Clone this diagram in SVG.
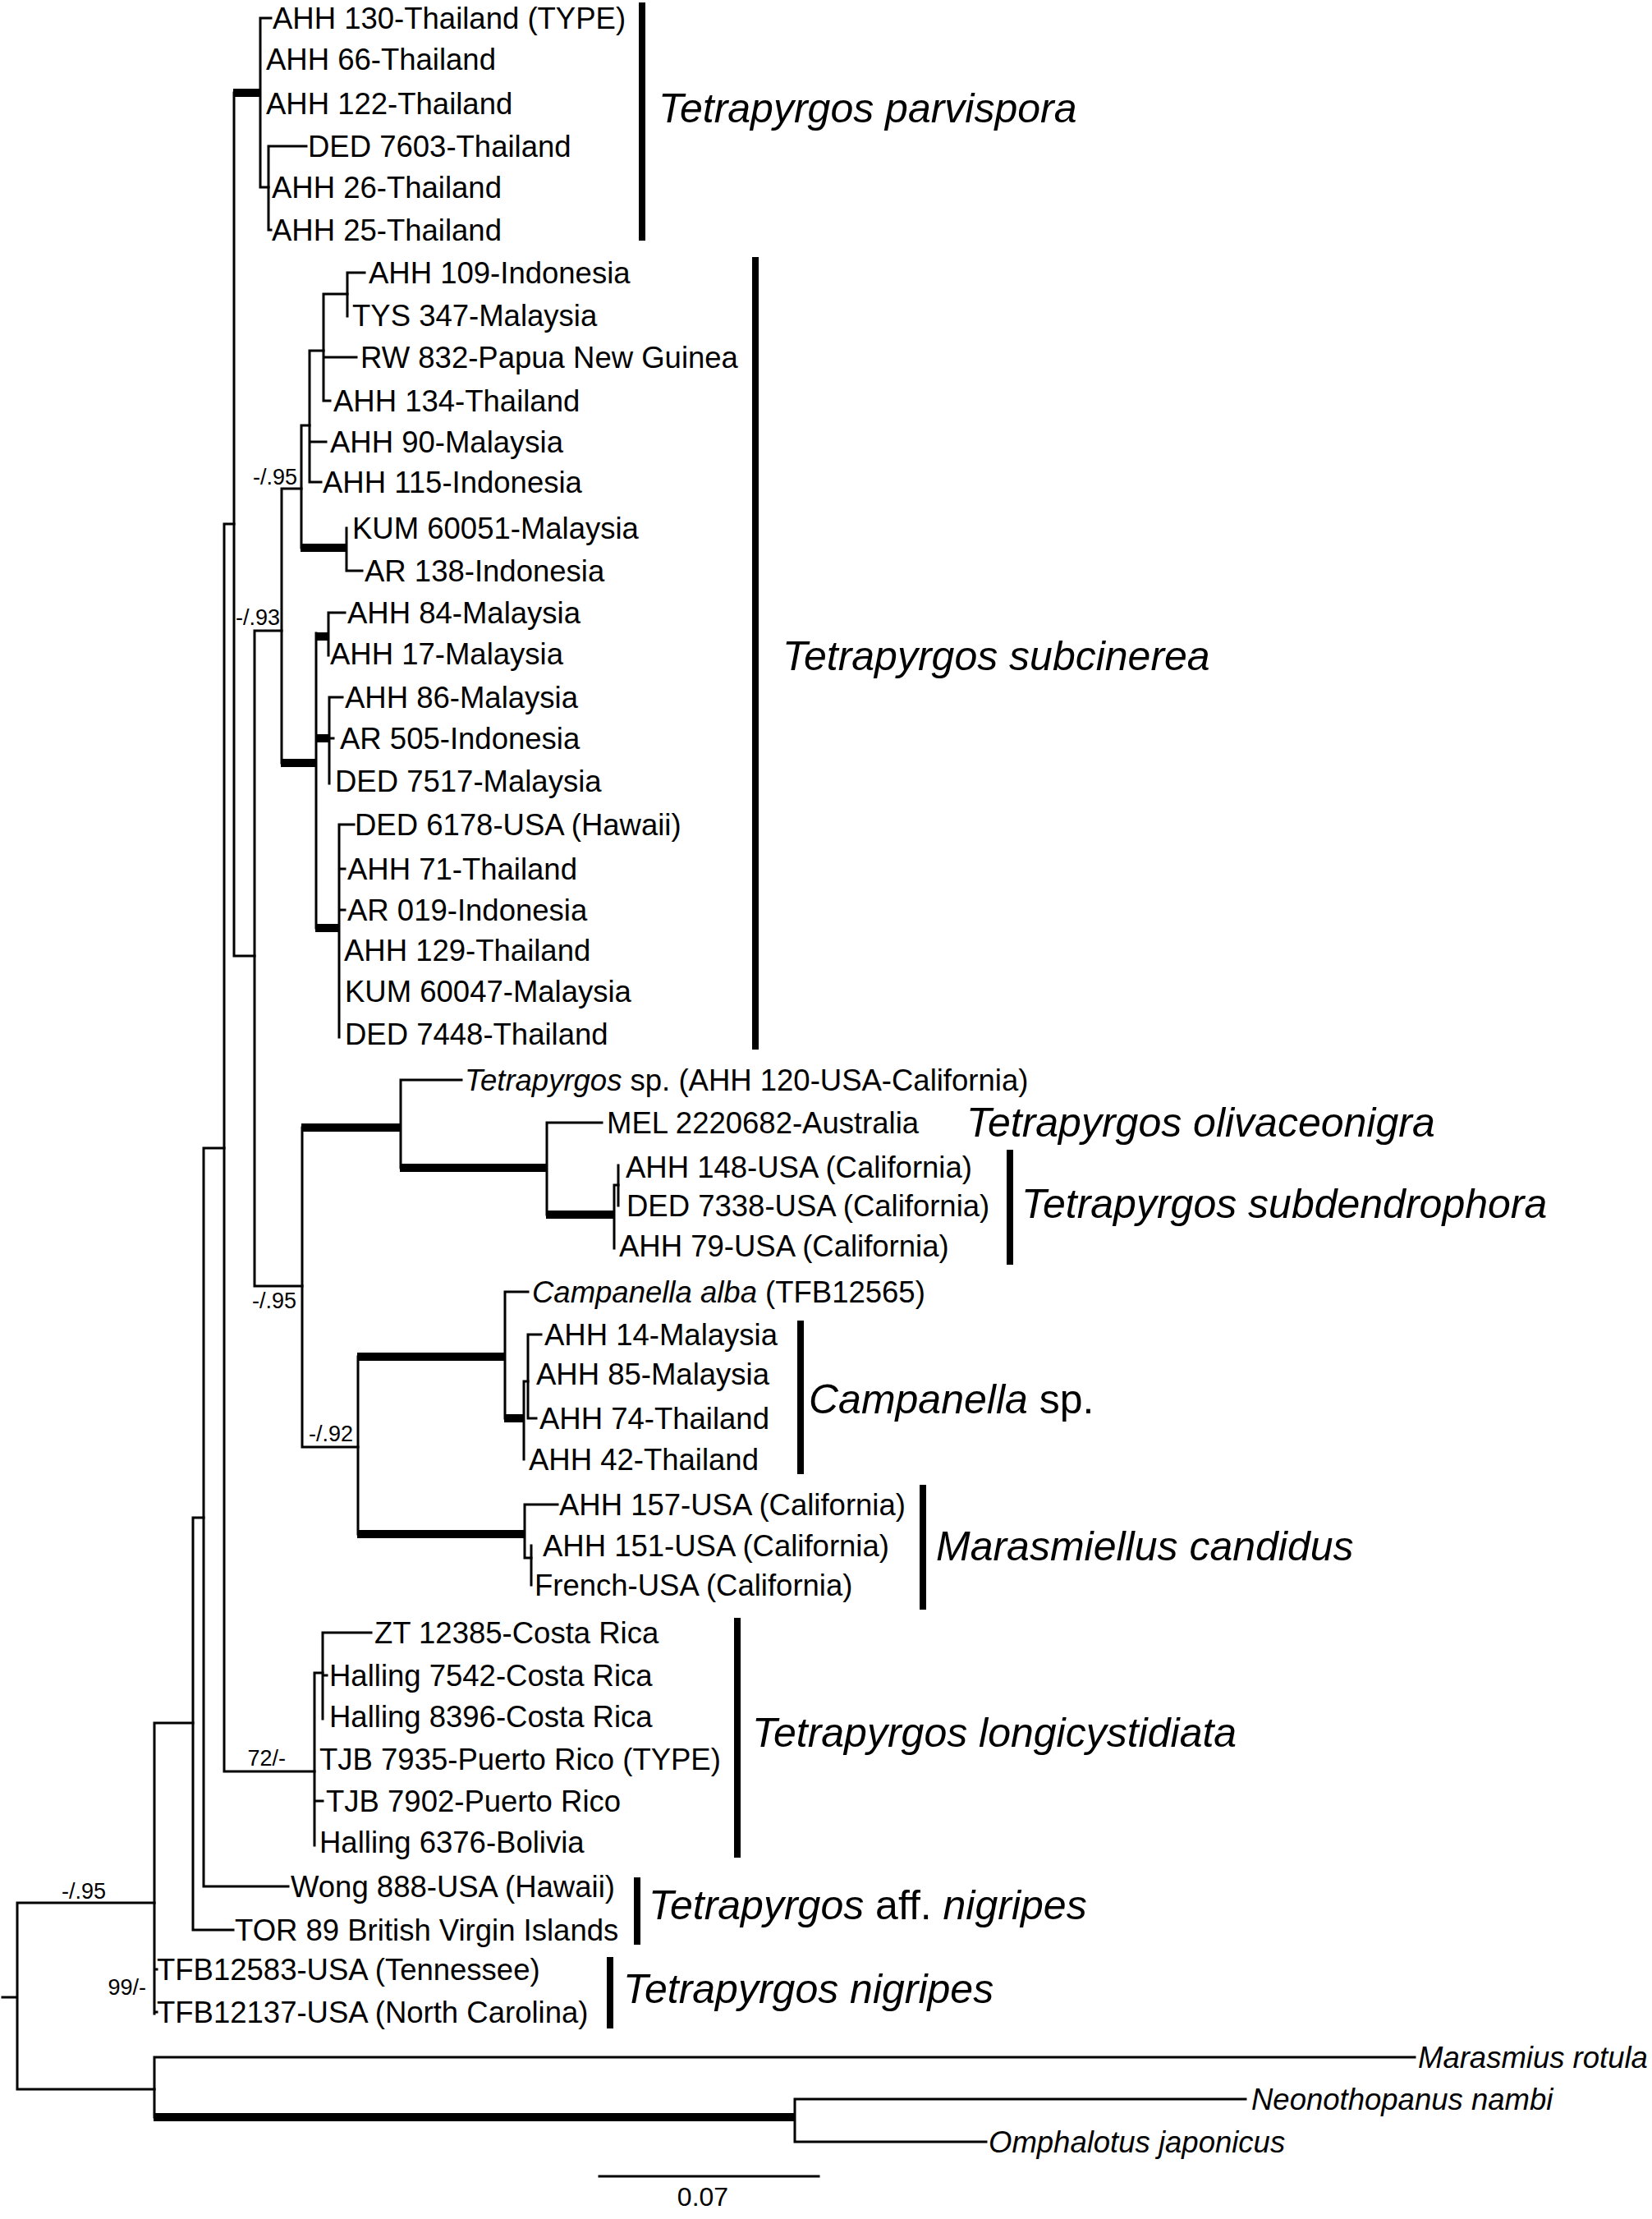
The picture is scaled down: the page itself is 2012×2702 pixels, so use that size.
<svg xmlns="http://www.w3.org/2000/svg" width="2012" height="2702" viewBox="0 0 2012 2702">
<style>
.bg{fill:#fff}
.br{fill:none;stroke:#000;stroke-width:3;stroke-linecap:square}
.tk{fill:none;stroke:#000;stroke-width:10;stroke-linecap:butt}
.bar{fill:none;stroke:#000;stroke-width:8;stroke-linecap:butt}
text{font-family:"Liberation Sans",Arial,sans-serif;fill:#000}
.tip{font-size:36.5px}
.grp{font-size:50px}
.it{font-style:italic}
.sup{font-size:27px;text-anchor:end}
.scl{font-size:32px;text-anchor:middle}
</style>
<rect class="bg" x="0" y="0" width="2012" height="2702"/>
<g id="connectors">
<path class="br" d="M3 2432H21M21 2317V2544M21 2317H188M21 2544H188"/>
<path class="br" d="M188 2098V2452M188 2098H235M188 2398H191M188 2450H191"/>
<path class="br" d="M235 1848V2350M235 1848H248M235 2350H284"/>
<path class="br" d="M248 1398V2297M248 1398H273M248 2297H351"/>
<path class="br" d="M273 638V2157M273 638H285M273 2157H383"/>
<path class="br" d="M285 113V1164M285 1164H310"/>
<path class="tk" d="M284 113H318"/>
<path class="br" d="M317 22V228M317 22H330M317 228H327"/>
<path class="br" d="M327 178V280M327 178H373M327 280H330"/>
<path class="br" d="M310 768V1566M310 768H343M310 1566H368"/>
<path class="br" d="M343 595V929M343 595H367"/>
<path class="tk" d="M342 929H386"/>
<path class="br" d="M367 518V667M367 518H377"/>
<path class="tk" d="M366 667H423"/>
<path class="br" d="M377 427V587M377 427H394M377 538H397M377 587H391"/>
<path class="br" d="M394 358V488M394 358H423M394 435H434M394 488H402"/>
<path class="br" d="M423 332V385M423 332H444"/>
<path class="br" d="M422 643V695M422 695H441"/>
<path class="br" d="M385 771V1130"/>
<path class="tk" d="M384 775H401M384 899H402M384 1130H414"/>
<path class="br" d="M400 746V798M400 746H420"/>
<path class="br" d="M401 849V954M401 849H417M401 899H406"/>
<path class="br" d="M413 1004V1263M413 1004H431M413 1058H420M413 1108H420"/>
<path class="br" d="M368 1373V1762M368 1762H436"/>
<path class="tk" d="M367 1373H489"/>
<path class="br" d="M488 1315V1422M488 1315H562"/>
<path class="tk" d="M487 1422H667"/>
<path class="br" d="M666 1367V1479M666 1367H733"/>
<path class="tk" d="M665 1479H749"/>
<path class="br" d="M748 1443V1520M748 1443H753"/>
<path class="br" d="M753 1419V1468"/>
<path class="br" d="M436 1652V1868"/>
<path class="tk" d="M435 1652H616M435 1868H640"/>
<path class="br" d="M615 1573V1727M615 1573H643"/>
<path class="tk" d="M614 1727H639"/>
<path class="br" d="M638 1682V1777M638 1682H643"/>
<path class="br" d="M643 1625V1727M643 1625H659M643 1727H653"/>
<path class="br" d="M639 1832V1897M639 1832H679M639 1897H647"/>
<path class="br" d="M647 1882V1930"/>
<path class="br" d="M383 2037V2247M383 2037H393M383 2193H393"/>
<path class="br" d="M393 1988V2093M393 1988H452M393 2040H398"/>
<path class="br" d="M188 2505V2578M188 2505H1723"/>
<path class="tk" d="M187 2578H969"/>
<path class="br" d="M968 2556V2608M968 2556H1517M968 2608H1201"/>
<path class="br" d="M730 2650H997"/>
</g>
<g id="support-values">
<text class="sup" x="362" y="590">-/.95</text>
<text class="sup" x="341" y="761">-/.93</text>
<text class="sup" x="361" y="1593">-/.95</text>
<text class="sup" x="430" y="1755">-/.92</text>
<text class="sup" x="348" y="2150">72/-</text>
<text class="sup" x="129" y="2312">-/.95</text>
<text class="sup" x="178" y="2429">99/-</text>
</g>
<g id="scale-bar"><text class="scl" x="856" y="2686">0.07</text></g>
<g id="tips">
<g id="t1"><text class="tip" x="332" y="35">AHH 130-Thailand (TYPE)</text></g>
<g id="t2"><text class="tip" x="324" y="85">AHH 66-Thailand</text></g>
<g id="t3"><text class="tip" x="324" y="139">AHH 122-Thailand</text></g>
<g id="t4"><text class="tip" x="375" y="191">DED 7603-Thailand</text></g>
<g id="t5"><text class="tip" x="331" y="241">AHH 26-Thailand</text></g>
<g id="t6"><text class="tip" x="331" y="293">AHH 25-Thailand</text></g>
<g id="t7"><text class="tip" x="449" y="345">AHH 109-Indonesia</text></g>
<g id="t8"><text class="tip" x="429" y="397">TYS 347-Malaysia</text></g>
<g id="t9"><text class="tip" x="439" y="448">RW 832-Papua New Guinea</text></g>
<g id="t10"><text class="tip" x="406" y="501">AHH 134-Thailand</text></g>
<g id="t11"><text class="tip" x="402" y="551">AHH 90-Malaysia</text></g>
<g id="t12"><text class="tip" x="393" y="600">AHH 115-Indonesia</text></g>
<g id="t13"><text class="tip" x="429" y="656">KUM 60051-Malaysia</text></g>
<g id="t14"><text class="tip" x="444" y="708">AR 138-Indonesia</text></g>
<g id="t15"><text class="tip" x="423" y="759">AHH 84-Malaysia</text></g>
<g id="t16"><text class="tip" x="402" y="809">AHH 17-Malaysia</text></g>
<g id="t17"><text class="tip" x="420" y="862">AHH 86-Malaysia</text></g>
<g id="t18"><text class="tip" x="414" y="912">AR 505-Indonesia</text></g>
<g id="t19"><text class="tip" x="408" y="964">DED 7517-Malaysia</text></g>
<g id="t20"><text class="tip" x="432" y="1017">DED 6178-USA (Hawaii)</text></g>
<g id="t21"><text class="tip" x="423" y="1071">AHH 71-Thailand</text></g>
<g id="t22"><text class="tip" x="423" y="1121">AR 019-Indonesia</text></g>
<g id="t23"><text class="tip" x="419" y="1170">AHH 129-Thailand</text></g>
<g id="t24"><text class="tip" x="420" y="1220">KUM 60047-Malaysia</text></g>
<g id="t25"><text class="tip" x="420" y="1272">DED 7448-Thailand</text></g>
<g id="t26"><text class="tip" x="566" y="1328"><tspan class="it">Tetrapyrgos</tspan> sp. (AHH 120-USA-California)</text></g>
<g id="t27"><text class="tip" x="739" y="1380">MEL 2220682-Australia</text></g>
<g id="t28"><text class="tip" x="762" y="1434">AHH 148-USA (California)</text></g>
<g id="t29"><text class="tip" x="763" y="1481">DED 7338-USA (California)</text></g>
<g id="t30"><text class="tip" x="754" y="1530">AHH 79-USA (California)</text></g>
<g id="t31"><text class="tip" x="648" y="1586"><tspan class="it">Campanella alba</tspan> (TFB12565)</text></g>
<g id="t32"><text class="tip" x="663" y="1638">AHH 14-Malaysia</text></g>
<g id="t33"><text class="tip" x="653" y="1686">AHH 85-Malaysia</text></g>
<g id="t34"><text class="tip" x="657" y="1740">AHH 74-Thailand</text></g>
<g id="t35"><text class="tip" x="644" y="1790">AHH 42-Thailand</text></g>
<g id="t36"><text class="tip" x="681" y="1845">AHH 157-USA (California)</text></g>
<g id="t37"><text class="tip" x="661" y="1895">AHH 151-USA (California)</text></g>
<g id="t38"><text class="tip" x="651" y="1943">French-USA (California)</text></g>
<g id="t39"><text class="tip" x="456" y="2001">ZT 12385-Costa Rica</text></g>
<g id="t40"><text class="tip" x="401" y="2053">Halling 7542-Costa Rica</text></g>
<g id="t41"><text class="tip" x="401" y="2103">Halling 8396-Costa Rica</text></g>
<g id="t42"><text class="tip" x="389" y="2155">TJB 7935-Puerto Rico (TYPE)</text></g>
<g id="t43"><text class="tip" x="397" y="2206">TJB 7902-Puerto Rico</text></g>
<g id="t44"><text class="tip" x="389" y="2256">Halling 6376-Bolivia</text></g>
<g id="t45"><text class="tip" x="354" y="2310">Wong 888-USA (Hawaii)</text></g>
<g id="t46"><text class="tip" x="286" y="2363">TOR 89 British Virgin Islands</text></g>
<g id="t47"><text class="tip" x="191" y="2411">TFB12583-USA (Tennessee)</text></g>
<g id="t48"><text class="tip" x="191" y="2463">TFB12137-USA (North Carolina)</text></g>
<g id="t49"><text class="tip it" x="1727" y="2518">Marasmius rotula</text></g>
<g id="t50"><text class="tip it" x="1524" y="2569">Neonothopanus nambi</text></g>
<g id="t51"><text class="tip it" x="1204" y="2621">Omphalotus japonicus</text></g>
</g>
<g id="clades">
<g id="c-parvispora"><path class="bar" d="M782 3V293"/><text class="grp it" x="802" y="149">Tetrapyrgos parvispora</text></g>
<g id="c-subcinerea"><path class="bar" d="M920 313V1278"/><text class="grp it" x="953" y="816">Tetrapyrgos subcinerea</text></g>
<g id="c-olivaceonigra"><text class="grp it" x="1177" y="1384">Tetrapyrgos olivaceonigra</text></g>
<g id="c-subdendrophora"><path class="bar" d="M1230 1400V1540"/><text class="grp it" x="1244" y="1483">Tetrapyrgos subdendrophora</text></g>
<g id="c-campanella"><path class="bar" d="M975 1608V1795"/><text class="grp" x="985" y="1721"><tspan class="it">Campanella</tspan> sp.</text></g>
<g id="c-marasmiellus"><path class="bar" d="M1124 1808V1960"/><text class="grp it" x="1140" y="1900">Marasmiellus candidus</text></g>
<g id="c-longicystidiata"><path class="bar" d="M898 1970V2262"/><text class="grp it" x="916" y="2127">Tetrapyrgos longicystidiata</text></g>
<g id="c-affnigripes"><path class="bar" d="M776 2286V2368"/><text class="grp" x="790" y="2337"><tspan class="it">Tetrapyrgos</tspan> aff. <tspan class="it">nigripes</tspan></text></g>
<g id="c-nigripes"><path class="bar" d="M743 2383V2470"/><text class="grp it" x="759" y="2439">Tetrapyrgos nigripes</text></g>
</g>
</svg>
